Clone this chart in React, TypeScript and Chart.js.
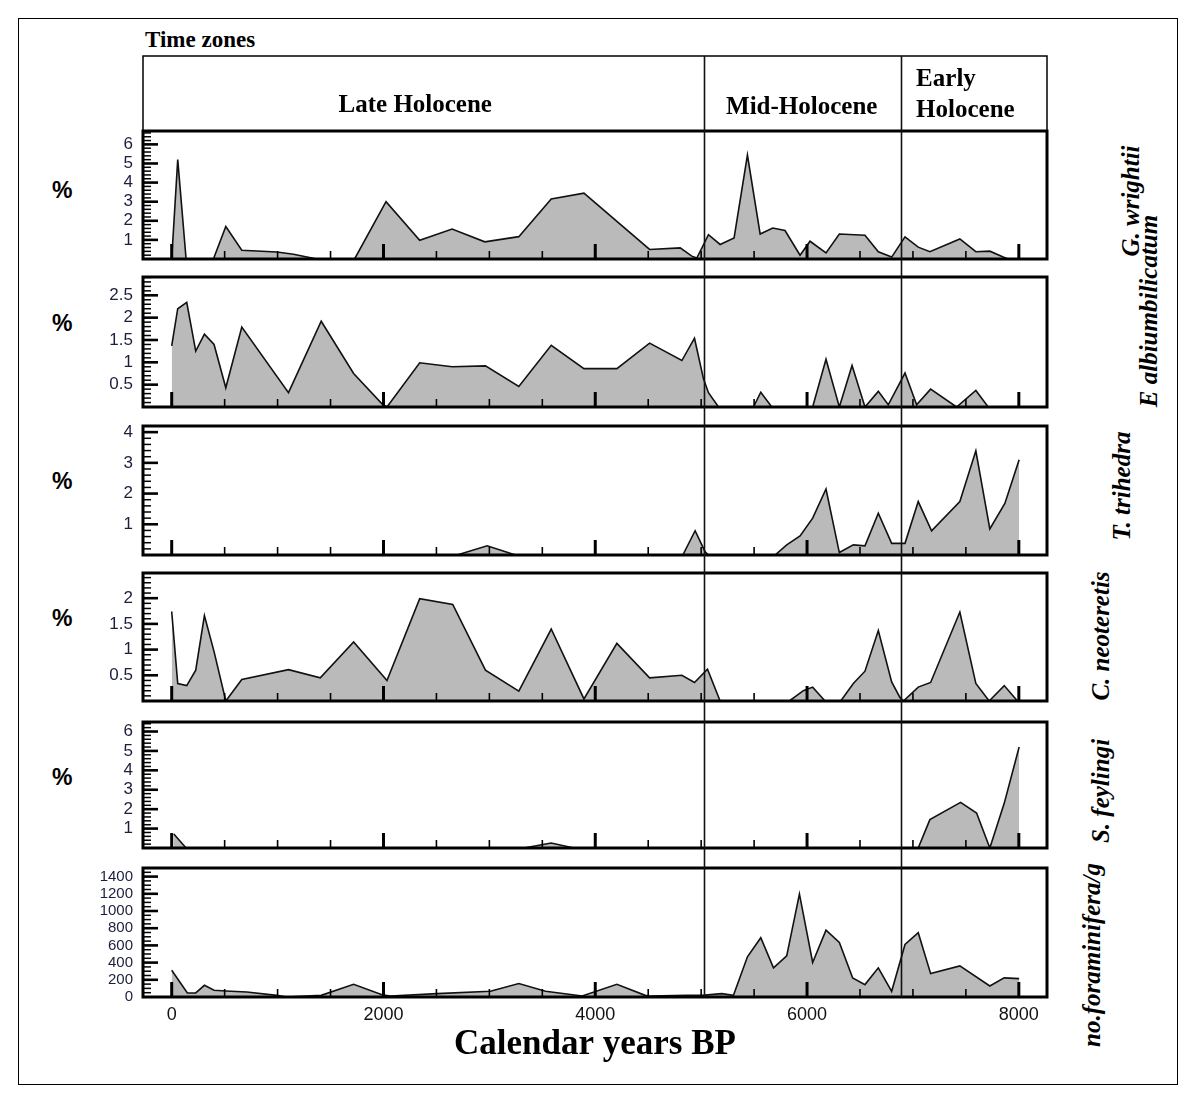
import React, { useEffect, useRef } from 'react';
import { Chart, registerables } from 'chart.js';

Chart.register(...registerables);

// ---------------- data ----------------
const X_MIN = -271;
const X_MAX = 8266;
const xTickLabels = [0, 2000, 4000, 6000, 8000];
const zoneBoundaries = [5030, 6890];
const zoneNames = ['Late Holocene', 'Mid-Holocene', 'Early', 'Holocene'];

const wrightiiYears = [0, 57, 136, 394, 511, 662, 993, 1150, 1371, 1727, 2024, 2342, 2648, 2957, 3278, 3584, 3893, 4513, 4802, 4912, 4959, 5069, 5179, 5311, 5437, 5557, 5676, 5792, 5934, 6028, 6179, 6305, 6547, 6673, 6799, 6925, 7050, 7160, 7443, 7594, 7726, 7852, 7900];
const wrightiiValues = [0, 5.2, 0, 0, 1.7, 0.46, 0.37, 0.25, 0, 0, 3.0, 0.98, 1.57, 0.9, 1.17, 3.14, 3.45, 0.5, 0.58, 0.15, 0.05, 1.27, 0.76, 1.1, 5.44, 1.31, 1.62, 1.49, 0.2, 0.93, 0.32, 1.31, 1.24, 0.38, 0.1, 1.16, 0.62, 0.38, 1.05, 0.38, 0.41, 0.1, 0];

const albiYears = [0, 57, 142, 227, 309, 400, 511, 662, 1103, 1412, 1718, 1986, 2033, 2342, 2648, 2963, 3278, 3584, 3893, 4204, 4513, 4818, 4937, 5022, 5069, 5164, 5494, 5563, 5667, 6053, 6179, 6305, 6425, 6547, 6673, 6767, 6925, 7035, 7167, 7412, 7594, 7711];
const albiValues = [1.37, 2.2, 2.34, 1.25, 1.63, 1.4, 0.43, 1.79, 0.32, 1.92, 0.75, 0.07, 0, 0.99, 0.9, 0.92, 0.46, 1.38, 0.86, 0.86, 1.43, 1.04, 1.54, 0.63, 0.32, 0, 0, 0.33, 0, 0, 1.07, 0, 0.93, 0, 0.35, 0.05, 0.76, 0.05, 0.4, 0, 0.37, 0];

const trihedraYears = [2695, 2979, 3247, 4827, 4943, 5038, 5069, 5698, 5808, 5934, 6053, 6179, 6305, 6437, 6547, 6673, 6799, 6925, 7050, 7176, 7443, 7594, 7726, 7868, 8003];
const trihedraValues = [0, 0.3, 0, 0, 0.79, 0.1, 0, 0, 0.33, 0.62, 1.2, 2.15, 0.08, 0.33, 0.3, 1.36, 0.38, 0.38, 1.74, 0.79, 1.74, 3.39, 0.85, 1.68, 3.1];

const neoYears = [0, 57, 142, 227, 309, 400, 511, 662, 1103, 1403, 1718, 2033, 2342, 2654, 2963, 3278, 3584, 3893, 4204, 4513, 4818, 4937, 5060, 5179, 5833, 5965, 6053, 6170, 6318, 6437, 6547, 6673, 6799, 6877, 6910, 7050, 7167, 7443, 7594, 7720, 7862, 7987];
const neoValues = [1.74, 0.34, 0.3, 0.6, 1.66, 0.96, 0, 0.42, 0.61, 0.45, 1.15, 0.4, 1.99, 1.88, 0.6, 0.19, 1.4, 0.04, 1.12, 0.45, 0.5, 0.36, 0.62, 0, 0, 0.2, 0.27, 0, 0, 0.34, 0.58, 1.37, 0.37, 0.07, 0, 0.27, 0.36, 1.73, 0.34, 0, 0.3, 0];

const feylingiYears = [20, 136, 3325, 3584, 3798, 7050, 7160, 7450, 7601, 7726, 7862, 8003];
const feylingiValues = [0.72, 0, 0, 0.26, 0, 0, 1.46, 2.35, 1.8, 0, 2.3, 5.2];

const foramYears = [0, 148, 227, 309, 400, 511, 709, 993, 1087, 1412, 1718, 1986, 2065, 2506, 3010, 3278, 3530, 3877, 4204, 4472, 4513, 4865, 5006, 5195, 5305, 5437, 5563, 5683, 5808, 5928, 6053, 6179, 6305, 6431, 6547, 6673, 6799, 6925, 7050, 7167, 7443, 7726, 7862, 8003];
const foramValues = [311, 47, 47, 136, 78, 70, 58, 19, 0, 19, 148, 27, 12, 39, 66, 156, 66, 12, 148, 19, 12, 19, 19, 39, 19, 467, 689, 339, 479, 1198, 401, 778, 634, 222, 144, 339, 66, 611, 747, 272, 362, 128, 222, 214];

const wrightiiTicks = [1, 2, 3, 4, 5, 6];
const albiTicks = [0.5, 1, 1.5, 2, 2.5];
const trihedraTicks = [1, 2, 3, 4];
const neoTicks = [0.5, 1, 1.5, 2];
const feylingiTicks = [1, 2, 3, 4, 5, 6];
const foramTicks = [0, 200, 400, 600, 800, 1000, 1200, 1400];

const speciesNames = ['G. wrightii', 'E albiumbilicatum', 'T. trihedra', 'C. neoteretis', 'S. feylingi', 'no.foraminifera/g'];

// ---------------- layout ----------------
const W = 1189;
const H = 1100;
const PLOT_LEFT = 143;
const PLOT_RIGHT = 1047;
const Y_AXIS_W = 80;
const X_AXIS_H = 69;
const ZONE_TOP = 56;

type Panel = {
  years: number[];
  values: number[];
  max: number;
  ticks: number[];
  minor: number;
  top: number;
  bottom: number;
  name: string;
  nameX: number;
  nameY: number;
  labelSize: number;
};

const PANELS: Panel[] = [
  { years: wrightiiYears, values: wrightiiValues, max: 6.7, ticks: wrightiiTicks, minor: 0.2, top: 131, bottom: 259, name: speciesNames[0], nameX: 1131, nameY: 201, labelSize: 17 },
  { years: albiYears, values: albiValues, max: 2.91, ticks: albiTicks, minor: 0.1, top: 277, bottom: 407, name: speciesNames[1], nameX: 1149, nameY: 311, labelSize: 17 },
  { years: trihedraYears, values: trihedraValues, max: 4.2, ticks: trihedraTicks, minor: 0.2, top: 426, bottom: 555, name: speciesNames[2], nameX: 1122, nameY: 486, labelSize: 17 },
  { years: neoYears, values: neoValues, max: 2.49, ticks: neoTicks, minor: 0.1, top: 573, bottom: 701, name: speciesNames[3], nameX: 1101, nameY: 636, labelSize: 17 },
  { years: feylingiYears, values: feylingiValues, max: 6.49, ticks: feylingiTicks, minor: 0.2, top: 722, bottom: 848, name: speciesNames[4], nameX: 1101, nameY: 791, labelSize: 17 },
  { years: foramYears, values: foramValues, max: 1500, ticks: foramTicks, minor: 50, top: 868, bottom: 997, name: speciesNames[5], nameX: 1092, nameY: 955, labelSize: 15 },
];

const PCT_Y = [190, 323, 481, 618, 777];

const SERIF = '"Liberation Serif", "DejaVu Serif", serif';
const SANS = '"Liberation Sans", Arial, sans-serif';

function makeDecorPlugin(panel: Panel, index: number) {
  const isFirst = index === 0;
  const isLast = index === PANELS.length - 1;
  return {
    id: 'panelDecor' + index,
    afterDatasetsDraw(chart: any) {
      const { ctx, chartArea: a } = chart;
      const x = chart.scales.x;
      const y = chart.scales.y;
      ctx.save();
      ctx.strokeStyle = '#000';
      ctx.lineCap = 'butt';
      // x ticks (inside, pointing up)
      for (let v = 0; v <= 8000; v += 500) {
        const px = x.getPixelForValue(v);
        const major = v % 2000 === 0;
        ctx.lineWidth = major ? 3 : 1.6;
        ctx.beginPath();
        ctx.moveTo(px, a.bottom);
        ctx.lineTo(px, a.bottom - (major ? 15 : 8));
        ctx.stroke();
      }
      // y ticks (inside, pointing right)
      const n = Math.floor(panel.max / panel.minor + 1e-6);
      for (let i = 1; i <= n; i++) {
        const v = i * panel.minor;
        const py = y.getPixelForValue(v);
        const major = panel.ticks.some((t) => Math.abs(t - v) < 1e-6);
        ctx.lineWidth = major ? 2.6 : 1.5;
        ctx.beginPath();
        ctx.moveTo(a.left, py);
        ctx.lineTo(a.left + (major ? 15 : 8), py);
        ctx.stroke();
      }
      // panel frame
      ctx.lineWidth = 3;
      ctx.strokeRect(a.left, a.top, a.right - a.left, a.bottom - a.top);

      if (isFirst) {
        // time-zone box
        ctx.lineWidth = 1.5;
        ctx.strokeRect(a.left, ZONE_TOP, a.right - a.left, a.top - ZONE_TOP);
        ctx.fillStyle = '#000';
        ctx.font = `bold 25px ${SERIF}`;
        ctx.textBaseline = 'middle';
        ctx.textAlign = 'center';
        ctx.fillText(zoneNames[0], x.getPixelForValue(2300), 106);
        ctx.fillText(zoneNames[1], x.getPixelForValue(5950), 108);
        ctx.textAlign = 'left';
        ctx.fillText(zoneNames[2], x.getPixelForValue(7030), 80);
        ctx.fillText(zoneNames[3], x.getPixelForValue(7030), 111);
      }
      ctx.restore();
    },
    afterDraw(chart: any) {
      if (!isLast) return;
      const { ctx, chartArea: a } = chart;
      const x = chart.scales.x;
      ctx.save();
      ctx.strokeStyle = '#111';
      ctx.lineWidth = 1.6;
      for (const b of zoneBoundaries) {
        const px = Math.round(x.getPixelForValue(b)) + 0.5;
        ctx.beginPath();
        ctx.moveTo(px, ZONE_TOP);
        ctx.lineTo(px, a.bottom);
        ctx.stroke();
      }
      ctx.restore();
    },
  };
}

function makeConfig(panel: Panel, index: number): any {
  const isLast = index === PANELS.length - 1;
  return {
    type: 'line',
    data: {
      datasets: [
        {
          data: panel.years.map((yr, i) => ({ x: yr, y: panel.values[i] })),
          fill: 'origin',
          backgroundColor: '#bababa',
          borderColor: '#111',
          borderWidth: 1.6,
          pointRadius: 0,
          tension: 0,
        },
      ],
    },
    options: {
      animation: false,
      responsive: false,
      events: [],
      layout: {
        padding: {
          left: PLOT_LEFT - Y_AXIS_W,
          right: W - PLOT_RIGHT,
          top: panel.top,
          bottom: isLast ? H - panel.bottom - X_AXIS_H : H - panel.bottom,
        },
      },
      plugins: {
        legend: { display: false },
        tooltip: { enabled: false },
        title: { display: false },
      },
      scales: {
        x: {
          type: 'linear',
          min: X_MIN,
          max: X_MAX,
          display: isLast,
          afterFit: (s: any) => {
            s.height = isLast ? X_AXIS_H : 0;
          },
          afterBuildTicks: (s: any) => {
            s.ticks = xTickLabels.map((v) => ({ value: v }));
          },
          grid: { display: false, drawTicks: false },
          border: { display: false },
          ticks: {
            padding: 7,
            maxRotation: 0,
            autoSkip: false,
            color: '#111',
            font: { family: SANS, size: 18 },
            callback: (v: any) => String(v),
          },
          title: {
            display: true,
            text: 'Calendar years BP',
            color: '#000',
            padding: 0,
            font: { family: SERIF, size: 35, weight: 'bold' },
          },
        },
        y: {
          type: 'linear',
          min: 0,
          max: panel.max,
          afterFit: (s: any) => {
            s.width = Y_AXIS_W;
          },
          afterBuildTicks: (s: any) => {
            s.ticks = panel.ticks.map((v) => ({ value: v }));
          },
          grid: { display: false, drawTicks: false },
          border: { display: false },
          ticks: {
            padding: 10,
            autoSkip: false,
            color: '#1b1f3b',
            font: { family: SANS, size: panel.labelSize },
            callback: (v: any) => String(v),
          },
        },
      },
    },
    plugins: [makeDecorPlugin(panel, index)],
  };
}

function PanelChart({ panel, index }: { panel: Panel; index: number }) {
  const ref = useRef<HTMLCanvasElement>(null);
  useEffect(() => {
    if (!ref.current) return;
    const chart = new Chart(ref.current, makeConfig(panel, index));
    return () => chart.destroy();
  }, [panel, index]);
  return (
    <canvas
      ref={ref}
      width={W}
      height={H}
      style={{ position: 'absolute', left: 0, top: 0, width: W, height: H }}
    />
  );
}

export default function App() {
  return (
    <div
      style={{
        position: 'absolute',
        left: 0,
        top: 0,
        width: W,
        height: H,
        background: '#fff',
        overflow: 'hidden',
      }}
    >
      <div
        style={{
          position: 'absolute',
          left: 18,
          top: 18,
          width: 1160,
          height: 1067,
          border: '1.5px solid #000',
          boxSizing: 'border-box',
        }}
      />
      <div
        style={{
          position: 'absolute',
          left: 145,
          top: 26,
          fontFamily: SERIF,
          fontWeight: 'bold',
          fontSize: 23,
          lineHeight: '28px',
          color: '#000',
          whiteSpace: 'nowrap',
        }}
      >
        Time zones
      </div>
      {PCT_Y.map((py, i) => (
        <div
          key={'pct' + i}
          style={{
            position: 'absolute',
            left: 52,
            top: py - 14,
            fontFamily: SANS,
            fontWeight: 'bold',
            fontSize: 23,
            lineHeight: '28px',
            color: '#000',
          }}
        >
          %
        </div>
      ))}
      {PANELS.map((p, i) => (
        <div
          key={'name' + i}
          style={{
            position: 'absolute',
            left: p.nameX,
            top: p.nameY,
            transform: 'translate(-50%, -50%) rotate(-90deg)',
            fontFamily: SERIF,
            fontStyle: 'italic',
            fontWeight: 'bold',
            fontSize: 25,
            lineHeight: '28px',
            color: '#000',
            whiteSpace: 'nowrap',
          }}
        >
          {p.name}
        </div>
      ))}
      {PANELS.map((p, i) => (
        <PanelChart key={'chart' + i} panel={p} index={i} />
      ))}
    </div>
  );
}
